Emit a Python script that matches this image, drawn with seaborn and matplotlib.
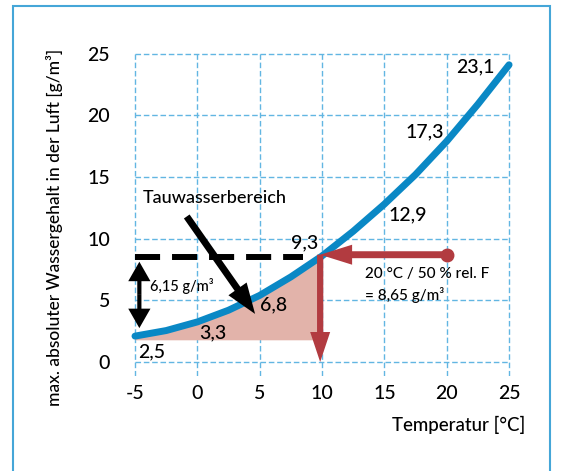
import matplotlib
matplotlib.use('Agg')
import matplotlib.pyplot as plt
import seaborn as sns
import pandas as pd
from matplotlib.patches import FancyArrowPatch, Rectangle

# Werte
temperatur = [-5, -2.5, 0, 2.5, 5, 7.5, 10, 12.5, 15, 17.5, 20, 22.5, 25]
wassergehalt = [2.1, 2.55, 3.25, 4.2, 5.4, 6.9, 8.6, 10.6, 12.8, 15.2, 17.9, 20.9, 24.1]

wert_labels = ['2,5', '3,3', '6,8', '9,3', '12,9', '17,3', '23,1']
wert_x = [-4.76, 1.26, 6.15, 8.64, 16.86, 18.2, 22.3]
wert_y = [0.8, 2.4, 4.6, 9.7, 11.9, 18.7, 23.95]

x_ticks = [-5, 0, 5, 10, 15, 20, 25]
y_ticks = [0, 5, 10, 15, 20, 25]

messpunkt = (20, 8.7)     # 20 °C / 50 % rel. F
taupunkt_x = 9.85
tau_linie_y = 8.55
fill_unten = 1.8

df = pd.DataFrame({'temperatur': temperatur, 'wassergehalt': wassergehalt})

sns.set_style("white")
plt.rcParams['font.family'] = ['Lato', 'DejaVu Sans']
plt.rcParams['font.weight'] = 'medium'
plt.rcParams['text.color'] = 'black'
plt.rcParams['xtick.color'] = 'black'
plt.rcParams['ytick.color'] = 'black'

fig = plt.figure(figsize=(5.61, 4.71), dpi=100)
ax = fig.add_axes([0.2184, 0.2026, 0.7335, 0.7096])
ax.set_xlim(-6, 27)
ax.set_ylim(-1.1, 26)

blau_grid = '#62b6e2'
rot = '#b23b40'

# Gitter
ax.hlines(y_ticks, x_ticks[0], x_ticks[-1], colors=blau_grid, lw=1, linestyles=(0, (4, 2)), zorder=0)
ax.vlines(x_ticks, -1.1, y_ticks[-1], colors=blau_grid, lw=1, linestyles=(0, (4, 2)), zorder=0)

# Tauwasserbereich
df_tau = df[df['temperatur'] <= 10]
ax.fill_between(df_tau['temperatur'], fill_unten, df_tau['wassergehalt'], color='#e2b3aa', lw=0, zorder=1)

# schwarze Strichlinie
ax.plot([x_ticks[0], 8.5], [tau_linie_y, tau_linie_y], color='black', lw=4.3,
        dashes=(4.2, 2.0), solid_capstyle='butt', zorder=2)

# Kurve
sns.lineplot(data=df, x='temperatur', y='wassergehalt', ax=ax, color='#0a88c5', lw=5,
             solid_capstyle='round', zorder=4)

def pfeil(start, ende, farbe, tail, hw, hl):
    p = FancyArrowPatch(start, ende, arrowstyle=f'simple,head_length={hl},head_width={hw},tail_width={tail}',
                        mutation_scale=1, color=farbe, lw=0, shrinkA=0, shrinkB=0, zorder=5)
    ax.add_patch(p)

# rote Pfeile
pfeil(messpunkt, (taupunkt_x, messpunkt[1]), rot, 5, 14.4, 23)
pfeil((taupunkt_x, messpunkt[1]), (taupunkt_x, 0), rot, 4.5, 14.4, 21.6)
ax.plot(*messpunkt, 'o', color=rot, ms=9, zorder=6)

# Tauwasserbereich Pfeil
pfeil((-0.85, 11.8), (4.63, 3.9), 'black', 5, 16, 22)

# Doppelpfeil
mitte = (8.13 + 2.75) / 2
pfeil((-4.65, mitte), (-4.65, 8.13), 'black', 3, 16, 14)
pfeil((-4.65, mitte), (-4.65, 2.75), 'black', 3, 16, 14)

# Texte
for t, x, y in zip(wert_labels, wert_x, wert_y):
    ax.text(x, y, t, fontsize=14, ha='left' if t == '2,5' else 'center', va='center', zorder=7)

ax.text(-4.36, 13.3, 'Tauwasserbereich', fontsize=13, va='center', zorder=7)
ax.text(-3.8, 6.15, '6,15 g/m³', fontsize=10.5, va='center', zorder=7)
ax.text(13.45, 7.1, '20 °C / 50 % rel. F', fontsize=11, va='center', zorder=7)
ax.text(13.45, 5.4, '= 8,65 g/m³', fontsize=11, va='center', zorder=7)

ax.set_xticks(x_ticks)
ax.set_yticks(y_ticks)
ax.set_xticklabels([str(v) for v in x_ticks])
ax.set_yticklabels([str(v) for v in y_ticks])
ax.tick_params(length=0, labelsize=14)
ax.tick_params(axis='x', pad=7)
ax.tick_params(axis='y', pad=9)
for s in ax.spines.values():
    s.set_visible(False)
ax.set_xlabel('')
ax.set_ylabel('')

fig.text(525 / 561, 1 - 425 / 471, 'Temperatur [°C]', fontsize=13.5, ha='right', va='center')
fig.text(55 / 561, 1 - 227 / 471, 'max. absoluter Wassergehalt in der Luft [g/m³]', fontsize=12.5,
         rotation=90, ha='center', va='center')

# Rahmen
fig.patches.append(Rectangle((13 / 561, -0.1), (550 - 13) / 561, 1.1 - 6 / 471, transform=fig.transFigure,
                             fill=False, edgecolor='#45a6d8', lw=1.5))

fig.savefig('out.png', dpi=100)
